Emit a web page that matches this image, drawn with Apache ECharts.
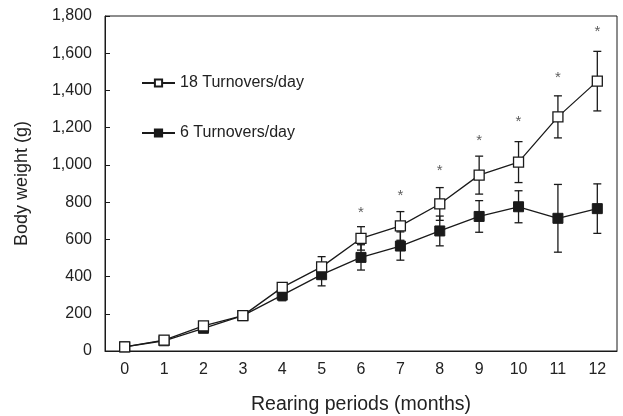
<!DOCTYPE html>
<html>
<head>
    <meta charset="UTF-8">
    <title>Body weight</title>
    <script src="https://cdn.jsdelivr.net/npm/echarts@6/dist/echarts.min.js"></script>
</head>
<body style="margin:0">
    <div id="chart" style="width:623px; height:416px;"></div>
    <script>
        var months = ['0', '1', '2', '3', '4', '5', '6', '7', '8', '9', '10', '11', '12'];
        var high = [22, 58, 135, 190, 342, 452, 605, 672, 790, 945, 1015, 1258, 1450];
        var highSd = [5, 8, 10, 10, 15, 55, 63, 77, 88, 102, 110, 113, 160];
        var low = [22, 55, 122, 190, 300, 410, 503, 564, 645, 723, 775, 713, 765];
        var lowSd = [5, 6, 10, 10, 30, 60, 68, 76, 80, 85, 86, 182, 133];
        var stars = [null, null, null, null, null, null, 761, 849, 983, 1144, 1247, 1483, 1730];
        var yTicks = [0, 200, 400, 600, 800, 1000, 1200, 1400, 1600, 1800];

        var ink = '#1a1a1a';
        var font = 'Liberation Sans';

        function errRows(mean, sd) {
            return mean.map(function (m, i) { return [i, m - sd[i], m + sd[i]]; });
        }

        function renderErr(params, api) {
            var x = api.value(0);
            var lo = api.coord([x, api.value(1)]);
            var hi = api.coord([x, api.value(2)]);
            var w = 4;
            var st = { stroke: ink, lineWidth: 1.3 };
            return {
                type: 'group',
                children: [
                    { type: 'line', shape: { x1: lo[0], y1: lo[1], x2: hi[0], y2: hi[1] }, style: st },
                    { type: 'line', shape: { x1: lo[0] - w, y1: lo[1], x2: lo[0] + w, y2: lo[1] }, style: st },
                    { type: 'line', shape: { x1: hi[0] - w, y1: hi[1], x2: hi[0] + w, y2: hi[1] }, style: st }
                ]
            };
        }

        var chart = echarts.init(document.getElementById('chart'), null, { renderer: 'canvas' });
        chart.setOption({
            animation: false,
            textStyle: { fontFamily: font },
            grid: {
                left: 105, right: 6, top: 16, bottom: 65, outerBoundsMode: 'none',
                show: true, borderColor: ink, borderWidth: 1
            },
            legend: {
                data: ['18 Turnovers/day', '6 Turnovers/day'],
                orient: 'vertical',
                left: 136,
                top: 68,
                itemGap: 30,
                itemWidth: 33,
                itemHeight: 9,
                textStyle: { fontSize: 16, lineHeight: 20, color: '#222', fontFamily: font }
            },
            xAxis: {
                type: 'category',
                data: months,
                name: 'Rearing periods (months)',
                nameLocation: 'middle',
                nameGap: 44,
                nameTextStyle: { fontSize: 19.5, color: '#222' },
                axisLine: { lineStyle: { color: ink } },
                axisTick: { inside: true, length: 5, lineStyle: { color: ink } },
                axisLabel: { fontSize: 16, color: '#222', margin: 11 }
            },
            yAxis: {
                type: 'value',
                min: 0,
                max: 1800,
                interval: 200,
                name: 'Body weight (g)',
                nameLocation: 'middle',
                nameGap: 74,
                nameTextStyle: { fontSize: 18, color: '#222' },
                splitLine: { show: false },
                axisLine: { show: true, lineStyle: { color: ink } },
                axisTick: { show: true, inside: true, length: 5, lineStyle: { color: ink } },
                axisLabel: {
                    fontSize: 16, color: '#222', margin: 13,
                    formatter: function (v) { return yTicks.indexOf(v) >= 0 ? v.toLocaleString('en-US') : ''; }
                }
            },
            series: [
                {
                    type: 'custom', renderItem: renderErr, data: errRows(high, highSd),
                    encode: { x: 0, y: [1, 2] }, z: 1, silent: true
                },
                {
                    type: 'custom', renderItem: renderErr, data: errRows(low, lowSd),
                    encode: { x: 0, y: [1, 2] }, z: 1, silent: true
                },
                {
                    name: '18 Turnovers/day', type: 'line', data: high,
                    symbol: 'rect', symbolSize: 10, showAllSymbol: true, z: 3,
                    lineStyle: { color: ink, width: 1.3 },
                    itemStyle: { color: '#fff', borderColor: ink, borderWidth: 1.3 }
                },
                {
                    name: '6 Turnovers/day', type: 'line', data: low,
                    symbol: 'rect', symbolSize: 10, showAllSymbol: true, z: 2,
                    lineStyle: { color: ink, width: 1.3 },
                    itemStyle: { color: ink, borderColor: ink, borderWidth: 1 }
                },
                {
                    type: 'scatter', data: stars, symbolSize: 0, silent: true,
                    label: { show: true, position: 'inside', formatter: '*', fontSize: 15, color: '#333', offset: [0, 3] }
                }
            ]
        });
    </script>
</body>
</html>
